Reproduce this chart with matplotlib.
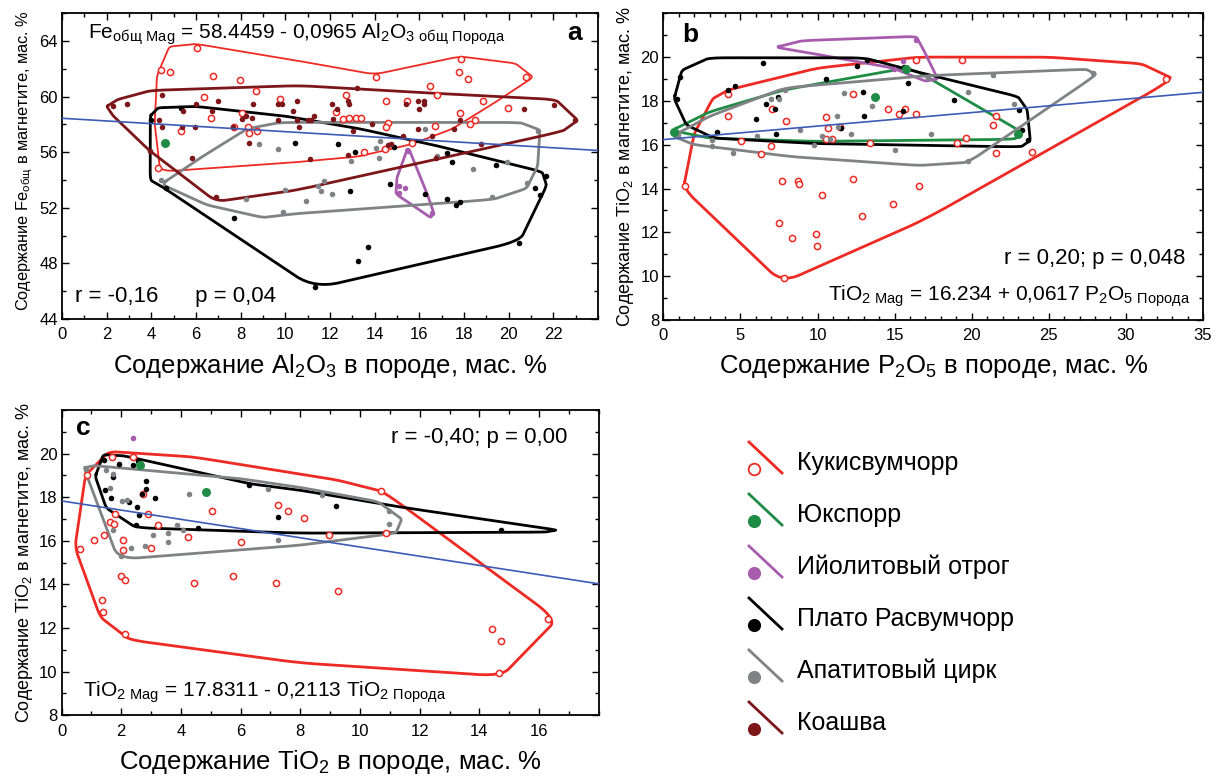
import numpy as np
import matplotlib
matplotlib.use("Agg")
import matplotlib.pyplot as plt
from matplotlib.ticker import MultipleLocator

plt.rcParams["font.family"] = ["Liberation Sans", "DejaVu Sans"]
plt.rcParams["mathtext.fontset"] = "custom"
plt.rcParams["mathtext.rm"] = "Liberation Sans"
plt.rcParams["mathtext.default"] = "regular"

# ── Группы и цвета ─────────────────────────────
GROUPS = ["Кукисвумчорр", "Юкспорр", "Ийолитовый отрог",
          "Плато Расвумчорр", "Апатитовый цирк", "Коашва"]
COLORS = ["#ee2a24", "#1f8c45", "#a85cae", "#000000", "#808285", "#7d1619"]

# ── Панель a: Al2O3 (порода) – Fe общ (магнетит) ──
A_KUK = [(6.06, 63.5), (4.45, 61.9), (4.82, 61.8), (6.76, 61.5), (7.95, 61.2),
         (8.69, 60.4), (6.38, 60.0), (9.78, 59.8), (12.7, 60.1), (6.65, 58.5),
         (8.07, 58.8), (12.26, 58.9), (12.56, 58.4), (12.86, 58.5), (13.15, 58.5),
         (7.72, 57.8), (8.32, 57.8), (8.36, 57.4), (8.73, 57.5), (5.31, 57.5),
         (4.32, 54.9), (17.87, 62.7), (17.77, 61.8), (18.17, 61.3), (20.79, 61.4),
         (14.05, 61.4), (16.46, 60.8), (16.8, 60.1), (14.5, 59.7), (15.46, 59.7),
         (18.85, 59.7), (19.95, 59.2), (13.4, 58.5), (17.8, 58.8), (18.25, 58.0),
         (18.5, 58.3), (14.6, 58.1), (14.52, 57.8), (16.7, 57.9), (13.5, 56.0),
         (14.46, 56.2), (15.68, 56.7)]
A_YUK = [(4.61, 56.7)]
A_IJO = [(15.49, 56.1), (15.09, 53.6), (15.36, 53.4), (15.09, 53.1), (16.55, 51.6)]
A_PLA = [(5.31, 59.15), (3.97, 58.35), (4.64, 53.4), (7.68, 51.3), (10.43, 56.7),
         (12.35, 56.6), (13.13, 56.0), (12.89, 53.2), (11.31, 46.3), (13.27, 48.2),
         (13.72, 49.2), (14.87, 56.4), (17.22, 55.95), (17.47, 55.3), (19.45, 55.1),
         (21.67, 54.3), (21.16, 53.4), (21.41, 52.9), (14.67, 53.7), (16.25, 53.0),
         (17.22, 52.6), (17.65, 52.2), (17.8, 52.4), (20.45, 49.5)]
A_APA = [(4.45, 54.0), (8.81, 56.6), (9.69, 56.2), (8.24, 52.6), (10.0, 53.3),
         (10.92, 52.5), (11.74, 53.9), (11.47, 53.6), (12.08, 53.0), (11.6, 53.2),
         (9.91, 51.7), (12.93, 55.4), (21.3, 57.5), (16.25, 57.7), (14.24, 56.8),
         (14.08, 56.3), (14.2, 55.6), (16.77, 55.7), (18.4, 54.8), (19.93, 55.3),
         (20.8, 53.8), (19.26, 52.8)]
A_KOA = [(2.29, 59.3), (2.89, 59.5), (4.46, 60.1), (4.34, 58.3), (4.49, 57.8),
         (3.93, 56.1), (5.42, 59.0), (6.01, 59.5), (5.97, 57.8), (5.36, 57.8),
         (5.83, 55.6), (7.0, 59.7), (6.73, 59.0), (8.57, 59.5), (8.07, 58.4),
         (8.25, 58.6), (8.5, 58.5), (7.65, 57.8), (8.36, 56.7), (6.9, 52.8),
         (9.69, 59.5), (9.85, 59.5), (10.33, 59.0), (10.54, 59.7), (9.69, 58.3),
         (10.52, 58.3), (11.0, 58.3), (11.15, 58.3), (11.3, 58.6), (10.6, 57.8),
         (12.08, 59.5), (12.14, 58.4), (12.3, 59.1), (12.8, 59.7), (12.86, 59.5),
         (13.05, 57.5), (13.2, 60.6), (12.8, 55.8), (13.9, 58.0), (15.42, 59.5),
         (15.94, 59.7), (16.0, 59.1), (16.2, 59.7), (16.2, 59.5), (15.94, 57.7),
         (16.58, 57.2), (15.27, 57.2), (14.75, 56.6), (14.6, 56.5), (17.81, 58.3),
         (17.57, 57.7), (18.74, 56.6), (20.67, 59.1), (22.05, 59.4), (22.95, 58.3),
         (11.1, 55.5), (16.73, 55.6)]

A_KUK_HULL = [(4.4, 54.6), (4.15, 58.0), (4.25, 61.5), (4.8, 63.6), (6.0, 63.8),
              (10.5, 62.6), (14.0, 61.6), (17.8, 62.9), (20.3, 62.4), (21.1, 61.4),
              (19.6, 59.8), (17.5, 57.7), (15.7, 56.6), (13.3, 55.7), (10.6, 55.3)]
A_IJO_HULL = [(15.5, 56.4), (15.0, 54.2), (14.95, 53.0), (16.5, 51.3), (16.65, 51.6),
              (16.4, 52.8)]
A_PLA_HULL = [(3.95, 58.6), (4.3, 59.2), (6.0, 59.3), (10.0, 58.6), (13.3, 57.7),
              (16.7, 56.5), (21.5, 54.6), (21.7, 53.6), (20.5, 49.6), (11.3, 46.2),
              (4.6, 53.4), (3.95, 54.0)]
A_APA_HULL = [(4.45, 53.7), (6.2, 55.6), (8.3, 57.7), (9.8, 58.15), (20.5, 58.15),
              (21.4, 57.6), (21.3, 55.0), (20.8, 53.4), (19.3, 52.6), (10.6, 51.6),
              (9.0, 51.3), (6.5, 52.2)]
A_KOA_HULL = [(2.0, 59.3), (2.5, 59.8), (4.0, 60.45), (10.6, 60.8), (16.0, 60.3),
              (22.1, 59.8), (23.1, 58.3), (22.4, 57.5), (10.6, 53.3), (6.9, 52.45),
              (3.93, 56.1), (2.3, 58.6)]

# ── Панель b: P2O5 (порода) – TiO2 (магнетит) ──
B_KUK = [(1.41, 14.1), (4.21, 18.3), (4.17, 17.3), (5.04, 16.17), (6.31, 15.6),
         (6.98, 15.95), (7.02, 17.65), (7.93, 17.1), (7.71, 14.36), (8.71, 14.36),
         (8.81, 14.2), (10.27, 13.7), (7.5, 12.45), (8.32, 11.75), (9.9, 11.93),
         (9.94, 11.4), (7.84, 9.93), (10.54, 17.25), (10.7, 16.75), (10.54, 16.25),
         (10.97, 16.25), (11.45, 16.8), (12.27, 18.3), (12.31, 14.45), (12.86, 12.76),
         (13.4, 16.1), (14.58, 17.65), (15.3, 17.4), (15.66, 17.65), (16.42, 17.4),
         (14.9, 13.3), (16.6, 14.1), (16.42, 19.85), (19.34, 19.88), (32.62, 19.0),
         (21.56, 17.3), (21.39, 16.9), (19.66, 16.3), (19.05, 16.07), (21.6, 15.64),
         (23.94, 15.68)]
B_YUK = [(0.7, 16.6), (13.72, 18.2), (15.73, 19.44), (23.0, 16.5)]
B_IJO = [(16.42, 20.8), (15.55, 19.8), (14.95, 19.47)]
B_PLA = [(1.08, 19.1), (0.91, 18.08), (4.21, 18.5), (4.65, 18.7), (6.48, 19.73),
         (3.46, 16.6), (5.99, 17.17), (6.66, 17.88), (7.24, 17.65), (7.45, 18.18),
         (7.3, 16.5), (10.54, 19.0), (11.52, 16.78), (12.53, 19.6), (12.96, 18.4),
         (13.03, 17.3), (13.22, 19.85), (15.55, 17.56), (15.88, 18.8), (15.6, 19.55),
         (18.86, 18.06), (23.05, 17.58), (23.27, 16.67), (23.62, 16.2)]
B_APA = [(0.97, 16.44), (3.14, 16.2), (3.14, 15.95), (4.54, 15.64), (6.05, 16.4),
         (6.98, 18.1), (7.52, 18.1), (7.89, 18.5), (8.86, 16.67), (9.77, 16.0),
         (10.27, 16.39), (10.8, 16.26), (11.28, 17.3), (11.34, 16.79), (11.73, 18.36),
         (12.16, 16.5), (13.54, 17.77), (15.0, 15.76), (17.33, 16.5), (17.17, 19.05),
         (21.39, 19.2), (27.87, 19.27), (19.73, 18.4), (22.75, 17.88), (19.77, 15.26)]
B_KOA = []

B_KUK_HULL = [(1.3, 14.0), (2.0, 16.5), (3.2, 18.1), (4.2, 18.5), (10.0, 19.5),
              (16.5, 20.0), (25.0, 20.0), (31.0, 19.7), (33.1, 19.0), (17.0, 12.6),
              (7.7, 9.7)]
B_YUK_HULL = [(0.55, 16.65), (3.0, 17.5), (7.8, 18.5), (15.7, 19.5), (16.6, 19.3),
              (23.2, 16.6), (22.8, 16.25), (10.0, 16.15), (3.0, 16.3)]
B_IJO_HULL = [(7.3, 20.45), (9.0, 20.75), (16.4, 20.95), (16.9, 20.3), (17.8, 19.0),
              (17.0, 18.9), (14.9, 19.5), (11.0, 20.0)]
B_PLA_HULL = [(0.7, 18.1), (1.2, 19.4), (3.0, 19.97), (13.0, 19.97), (16.6, 19.3),
              (23.0, 18.2), (23.6, 17.6), (23.8, 16.2), (23.2, 15.9), (10.0, 16.05),
              (3.3, 16.3), (1.5, 16.9)]
B_APA_HULL = [(0.6, 16.4), (3.0, 17.3), (7.9, 18.6), (17.0, 19.15), (27.4, 19.45),
              (28.1, 19.2), (19.8, 15.2), (16.6, 15.05), (8.4, 15.45), (2.0, 16.0)]

# ── Панель c: TiO2 (порода) – TiO2 (магнетит) ──
C_KUK = [(1.7, 19.85), (2.38, 19.85), (0.86, 19.0), (2.72, 18.17), (5.03, 17.37),
         (2.89, 17.25), (1.79, 17.25), (1.62, 16.87), (1.77, 16.76), (3.22, 16.72),
         (1.42, 16.29), (1.09, 16.06), (2.07, 16.06), (2.05, 15.6), (2.99, 15.68),
         (0.62, 15.62), (4.23, 16.18), (6.0, 15.95), (7.24, 17.66), (7.6, 17.36),
         (8.13, 17.07), (8.97, 16.29), (9.27, 13.69), (1.98, 14.38), (2.13, 14.2),
         (4.44, 14.07), (5.74, 14.38), (7.18, 14.07), (1.35, 13.28), (1.4, 12.74),
         (2.13, 11.71), (10.7, 18.27), (10.87, 16.36), (16.31, 12.41), (14.43, 11.94),
         (14.72, 11.4), (14.67, 9.92)]
C_YUK = [(2.63, 19.5), (4.83, 18.24)]
C_IJO = [(2.38, 20.71)]
C_PLA = [(1.43, 19.72), (1.94, 19.54), (2.38, 19.46), (2.55, 19.65), (1.74, 18.93),
         (1.46, 18.35), (2.83, 18.73), (2.83, 18.4), (2.69, 18.14), (3.13, 17.98),
         (1.66, 17.98), (2.26, 17.76), (2.54, 17.53), (2.6, 17.2), (2.49, 16.72),
         (4.56, 16.6), (6.28, 18.58), (7.26, 17.1), (9.19, 17.59), (14.72, 16.52)]
C_APA = [(0.83, 19.28), (1.5, 19.24), (1.74, 19.05), (1.62, 18.44), (1.74, 16.52),
         (2.02, 17.83), (2.2, 17.85), (4.27, 18.17), (6.93, 18.4), (3.86, 16.72),
         (3.58, 16.37), (3.08, 16.29), (4.08, 16.49), (3.58, 15.95), (2.8, 15.77),
         (2.32, 15.68), (2.0, 15.3), (7.24, 16.03), (8.74, 18.09), (10.98, 17.36),
         (10.98, 16.75)]
C_KOA = []

C_KUK_HULL = [(0.8, 19.0), (1.6, 20.1), (4.4, 19.85), (9.2, 18.8), (10.8, 18.25),
              (16.6, 12.4), (14.75, 9.8), (8.0, 10.4), (2.3, 11.45), (1.3, 12.5),
              (0.45, 15.7)]
C_PLA_HULL = [(1.13, 18.95), (1.4, 19.95), (2.1, 19.9), (6.3, 18.62), (8.0, 18.32),
              (11.35, 17.55), (16.6, 16.5), (16.2, 16.4), (8.0, 16.35), (2.5, 16.6),
              (1.5, 17.5)]
C_APA_HULL = [(0.75, 19.35), (1.1, 19.45), (6.0, 18.85), (8.0, 18.45), (10.6, 17.8),
              (11.4, 17.0), (11.2, 16.35), (8.0, 15.8), (1.9, 15.15)]

# регрессии: (свободный член, наклон)
A_FIT = (58.4459, -0.0965)
B_FIT = (16.234, 0.0617)
C_FIT = (17.8311, -0.2113)


def smooth_hull(pts, n_sub=4, n_iter=3):
    """Замкнутый контур со скруглёнными углами (Chaikin)."""
    p = np.array(pts, float)
    nxt = np.roll(p, -1, axis=0)
    p = np.stack([p + (nxt - p) * k / n_sub for k in range(n_sub)],
                 axis=1).reshape(-1, 2)
    for _ in range(n_iter):
        nxt = np.roll(p, -1, axis=0)
        p = np.stack([0.75 * p + 0.25 * nxt, 0.25 * p + 0.75 * nxt],
                     axis=1).reshape(-1, 2)
    return np.vstack([p, p[:1]])


def draw_panel(ax, points, hulls, fit, xlim, ylim, thin_first=False):
    # контуры
    for i, hull in enumerate(hulls):
        if hull:
            h = smooth_hull(hull)
            lw = 1.3 if (thin_first and i == 0) else 2.0
            ax.plot(h[:, 0], h[:, 1], color=COLORS[i], lw=lw, zorder=2)
    # точки
    for i, pts in enumerate(points):
        if not pts:
            continue
        xy = np.array(pts)
        if i == 0:
            ax.scatter(xy[:, 0], xy[:, 1], s=20, facecolors="white",
                       edgecolors=COLORS[i], linewidths=1.1, zorder=3)
        elif i == 1:
            ax.scatter(xy[:, 0], xy[:, 1], s=42, color=COLORS[i], lw=0, zorder=4)
        else:
            ax.scatter(xy[:, 0], xy[:, 1], s=16, color=COLORS[i], lw=0, zorder=3)
    # линия регрессии
    xs = np.array(xlim, float)
    ax.plot(xs, fit[0] + fit[1] * xs, color="#3b5bb5", lw=1.2, zorder=5)
    ax.set_xlim(xlim)
    ax.set_ylim(ylim)
    ax.tick_params(which="both", direction="in", top=True, right=True,
                   labelsize=12, width=1)
    ax.tick_params(which="major", length=5)
    ax.tick_params(which="minor", length=3)
    ax.tick_params(axis="x", pad=6)
    ax.tick_params(axis="y", pad=3)
    for sp in ax.spines.values():
        sp.set_linewidth(1.3)


fig = plt.figure(figsize=(12.23, 7.78), dpi=100)
W, H = 1223, 778
ax_a = fig.add_axes([62 / W, 1 - 319 / H, 536 / W, 305.7 / H])
ax_b = fig.add_axes([663.3 / W, 1 - 320 / H, 539.7 / W, 306.7 / H])
ax_c = fig.add_axes([61.5 / W, 1 - 715.3 / H, 537.3 / W, 305.3 / H])

# ── a ──
draw_panel(ax_a, [A_KUK, A_YUK, A_IJO, A_PLA, A_APA, A_KOA],
           [A_KUK_HULL, [], A_IJO_HULL, A_PLA_HULL, A_APA_HULL, A_KOA_HULL],
           A_FIT, (0, 24), (44, 66), thin_first=True)
ax_a.set_xticks(np.arange(0, 23, 2))
ax_a.xaxis.set_minor_locator(MultipleLocator(1))
ax_a.set_yticks(np.arange(44, 65, 4))
ax_a.yaxis.set_minor_locator(MultipleLocator(2))
ax_a.set_xlabel("Содержание Al$_2$O$_3$ в породе, мас. %", fontsize=18.5, labelpad=7)
ax_a.set_ylabel("Содержание Fe$_{общ}$ в магнетите, мас. %", fontsize=11.8)
ax_a.yaxis.set_label_coords(-0.05, 0.52)
ax_a.text(0.048, 0.93, "Fe$_{общ\\ Mag}$ = 58.4459 - 0,0965 Al$_2$O$_{3\\ общ\\ Порода}$",
          transform=ax_a.transAxes, fontsize=15, va="center")
ax_a.text(0.024, 0.072, "r = -0,16      p = 0,04", transform=ax_a.transAxes,
          fontsize=16, va="center")
ax_a.text(0.957, 0.935, "a", transform=ax_a.transAxes, fontsize=19,
          fontweight="bold", ha="center", va="center")

# ── b ──
draw_panel(ax_b, [B_KUK, B_YUK, B_IJO, B_PLA, B_APA, B_KOA],
           [B_KUK_HULL, B_YUK_HULL, B_IJO_HULL, B_PLA_HULL, B_APA_HULL, []],
           B_FIT, (0, 35), (8, 22))
ax_b.xaxis.set_major_locator(MultipleLocator(5))
ax_b.xaxis.set_minor_locator(MultipleLocator(1))
ax_b.set_yticks(np.arange(8, 21, 2))
ax_b.yaxis.set_minor_locator(MultipleLocator(1))
ax_b.set_xlabel("Содержание P$_2$O$_5$ в породе, мас. %", fontsize=18.5, labelpad=7)
ax_b.set_ylabel("Содержание TiO$_2$ в магнетите, мас. %", fontsize=13, labelpad=3)
ax_b.text(0.05, 0.93, "b", transform=ax_b.transAxes, fontsize=19,
          fontweight="bold", ha="center", va="center")
ax_b.text(0.967, 0.202, "r = 0,20; p = 0,048", transform=ax_b.transAxes,
          fontsize=16, ha="right", va="center")
ax_b.text(0.976, 0.078, "TiO$_{2\\ Mag}$ = 16.234 + 0,0617 P$_2$O$_{5\\ Порода}$",
          transform=ax_b.transAxes, fontsize=15, ha="right", va="center")

# ── c ──
draw_panel(ax_c, [C_KUK, C_YUK, C_IJO, C_PLA, C_APA, C_KOA],
           [C_KUK_HULL, [], [], C_PLA_HULL, C_APA_HULL, []],
           C_FIT, (0, 18), (8, 22))
ax_c.set_xticks(np.arange(0, 17, 2))
ax_c.xaxis.set_minor_locator(MultipleLocator(1))
ax_c.set_yticks(np.arange(8, 21, 2))
ax_c.yaxis.set_minor_locator(MultipleLocator(1))
ax_c.set_xlabel("Содержание TiO$_2$ в породе, мас. %", fontsize=18.5, labelpad=7)
ax_c.set_ylabel("Содержание TiO$_2$ в магнетите, мас. %", fontsize=13, labelpad=3)
ax_c.text(0.04, 0.941, "c", transform=ax_c.transAxes, fontsize=19,
          fontweight="bold", ha="center", va="center")
ax_c.text(0.941, 0.911, "r = -0,40; p = 0,00", transform=ax_c.transAxes,
          fontsize=16, ha="right", va="center")
ax_c.text(0.04, 0.076, "TiO$_{2\\ Mag}$ = 17.8311 - 0,2113 TiO$_{2\\ Порода}$",
          transform=ax_c.transAxes, fontsize=15, va="center")

# ── легенда (в пиксельных координатах фигуры) ──
ax_leg = fig.add_axes([0, 0, 1, 1])
ax_leg.set_xlim(0, W)
ax_leg.set_ylim(H, 0)
ax_leg.axis("off")
for i, (name, col) in enumerate(zip(GROUPS, COLORS)):
    y = 463 + i * 52
    ax_leg.plot([749, 782], [y - 21, y + 10], color=col, lw=2)
    if i == 0:
        ax_leg.scatter([754], [y + 6], s=70, facecolors="white",
                       edgecolors=col, linewidths=1.3, zorder=3)
    else:
        ax_leg.scatter([754], [y + 6], s=90, color=col, lw=0, zorder=3)
    ax_leg.text(797, y, name, fontsize=18, va="center")

fig.savefig("out.png", dpi=100)
